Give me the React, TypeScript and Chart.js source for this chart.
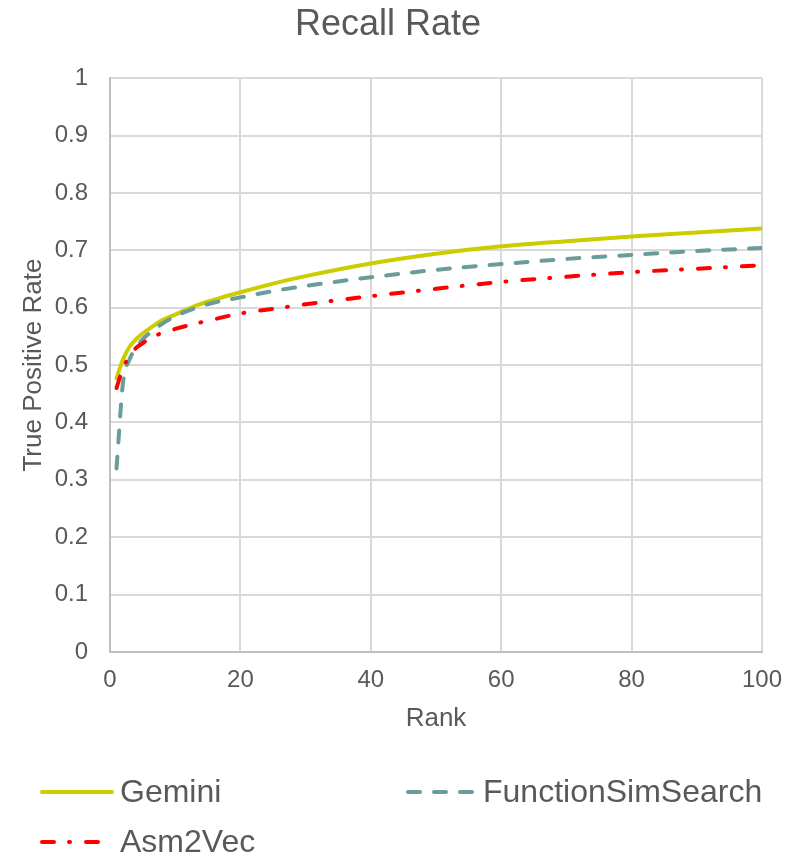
import React, { useEffect, useRef } from "react";
import { Chart, registerables } from "chart.js";

Chart.register(...registerables);

// Rank positions at which the recall curves are sampled
const ranks = [1, 2, 3, 4, 5, 6, 8, 10, 13, 16, 20, 25, 30, 40, 50, 60, 70, 80, 90, 100];

// True positive rate per rank for each tool
const geminiTpr = [0.477, 0.51, 0.532, 0.545, 0.555, 0.563, 0.578, 0.588, 0.603, 0.614, 0.627, 0.642, 0.655, 0.677, 0.694, 0.707, 0.716, 0.724, 0.731, 0.738];
const functionSimSearchTpr = [0.32, 0.47, 0.51, 0.53, 0.545, 0.555, 0.572, 0.585, 0.599, 0.609, 0.618, 0.629, 0.638, 0.653, 0.666, 0.676, 0.685, 0.692, 0.699, 0.704];
const asm2VecTpr = [0.46, 0.495, 0.515, 0.53, 0.538, 0.546, 0.556, 0.563, 0.572, 0.58, 0.59, 0.598, 0.606, 0.62, 0.633, 0.645, 0.654, 0.662, 0.668, 0.674];

const seriesNames = ["Gemini", "FunctionSimSearch", "Asm2Vec"];
const seriesColors = ["#cccc00", "#6a9c9c", "#ff0000"];
const seriesDashes: number[][] = [[], [12, 14], [12, 15, 1, 16]];

const FONT = "'Liberation Sans', Arial, sans-serif";
const TEXT = "#595959";

const toPoints = (ys: number[]) => ranks.map((x, i) => ({ x, y: ys[i] }));

// Two-column legend drawn beneath the axis title
const bottomLegend = {
  id: "bottomLegend",
  afterDraw(chart: Chart) {
    const ctx = chart.ctx;
    const slots = [
      { x: 42, y: 792, len: 70, tx: 120 },
      { x: 408, y: 792, len: 68, tx: 483 },
      { x: 42, y: 842, len: 62, tx: 120 },
    ];
    ctx.save();
    chart.data.datasets.forEach((ds: any, i: number) => {
      const s = slots[i];
      ctx.beginPath();
      ctx.strokeStyle = ds.borderColor;
      ctx.lineWidth = 4;
      ctx.lineCap = "round";
      ctx.setLineDash(ds.borderDash || []);
      ctx.moveTo(s.x, s.y);
      ctx.lineTo(s.x + s.len, s.y);
      ctx.stroke();
      ctx.setLineDash([]);
      ctx.fillStyle = TEXT;
      ctx.font = `32px ${FONT}`;
      ctx.textBaseline = "middle";
      ctx.textAlign = "left";
      ctx.fillText(ds.label, s.tx, s.y + 1);
    });
    ctx.restore();
  },
};

export default function App() {
  const canvasRef = useRef<HTMLCanvasElement | null>(null);

  useEffect(() => {
    document.body.style.margin = "0";
    const canvas = canvasRef.current;
    if (!canvas) return;
    const allSeries = [geminiTpr, functionSimSearchTpr, asm2VecTpr];
    const chart = new Chart(canvas, {
      type: "line",
      data: {
        datasets: allSeries.map((ys, i) => ({
          label: seriesNames[i],
          data: toPoints(ys),
          borderColor: seriesColors[i],
          backgroundColor: seriesColors[i],
          borderWidth: 4,
          borderDash: seriesDashes[i],
          borderCapStyle: "round" as const,
          pointRadius: 0,
          fill: false,
          cubicInterpolationMode: "monotone" as const,
          order: 2 - i,
        })),
      },
      plugins: [bottomLegend],
      options: {
        animation: false,
        responsive: true,
        maintainAspectRatio: false,
        layout: { padding: { left: 14, right: 25, top: 0, bottom: 121 } },
        plugins: {
          legend: { display: false },
          tooltip: { enabled: false },
          title: {
            display: true,
            text: "Recall Rate",
            color: TEXT,
            font: { family: FONT, size: 36, weight: "normal" },
            padding: { top: 3, bottom: 32 },
          },
        },
        scales: {
          x: {
            type: "linear",
            min: 0,
            max: 100,
            afterFit: (scale: any) => {
              scale.height = 86;
              scale.paddingRight = 0;
              scale.paddingLeft = 0;
            },
            ticks: { stepSize: 20, color: TEXT, font: { family: FONT, size: 24 }, padding: 14 },
            grid: { color: "#d9d9d9", lineWidth: 2, drawTicks: false },
            border: { color: "#bfbfbf", width: 2 },
            title: {
              display: true,
              text: "Rank",
              color: TEXT,
              font: { family: FONT, size: 26 },
              padding: { top: 0, bottom: 4 },
            },
          },
          y: {
            type: "linear",
            min: 0,
            max: 1,
            afterFit: (scale: any) => {
              scale.width = 96;
            },
            ticks: {
              stepSize: 0.1,
              color: TEXT,
              font: { family: FONT, size: 24 },
              padding: 22,
              callback: (v: any) => String(Number(Number(v).toFixed(1))),
            },
            grid: { color: "#d9d9d9", lineWidth: 2, drawTicks: false },
            border: { color: "#bfbfbf", width: 2 },
            title: {
              display: true,
              text: "True Positive Rate",
              color: TEXT,
              font: { family: FONT, size: 26 },
              padding: { top: 4, bottom: 4 },
            },
          },
        },
      },
    });
    return () => chart.destroy();
  }, []);

  return (
    <div style={{ width: 787, height: 859, position: "relative", background: "#fff" }}>
      <canvas ref={canvasRef} />
    </div>
  );
}
